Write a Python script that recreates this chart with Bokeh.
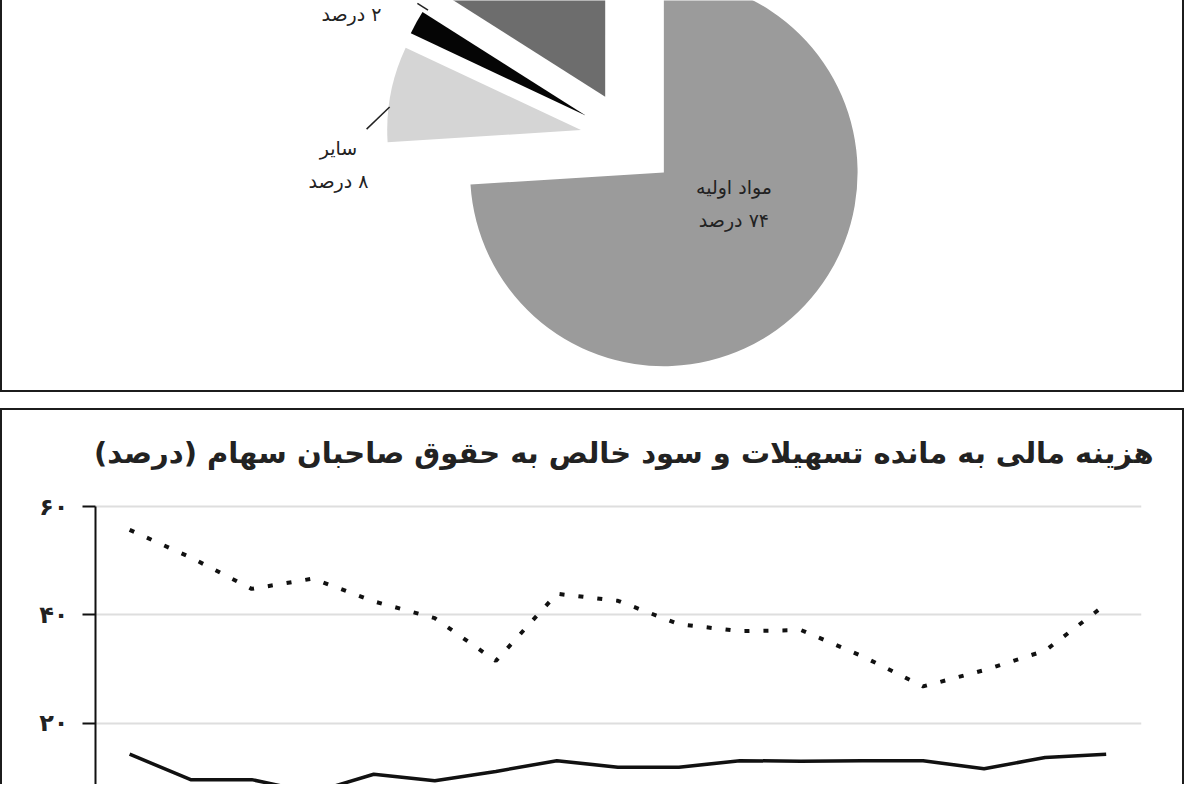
import numpy as np
from bokeh.plotting import figure
from bokeh.layouts import column
from bokeh.models import Range1d, FixedTicker, ColumnDataSource
from bokeh.core.properties import value
from bokeh.embed import file_html
from bokeh.resources import INLINE

# ---------------- data ----------------
# pie (cost structure, percent) - ordered counter-clockwise from the top
pie_names = ["", "", "سایر", "مواد اولیه"]
pie_values = [16, 2, 8, 74]
pie_colors = ["#6d6d6d", "#050505", "#d5d5d5", "#9b9b9b"]

# line chart (percent), 17 periods
periods = list(range(17))
finance_cost_ratio = [55.7, 50.6, 44.8, 46.7, 42.5, 39.4, 31.5, 43.9, 42.6, 38.3,
                      37.0, 37.2, 32.4, 26.8, 29.8, 33.4, 42.0]
net_profit_ratio = [14.3, 9.6, 9.6, 7.2, 10.6, 9.4, 11.1, 13.1, 11.9, 11.9,
                    13.1, 13.0, 13.1, 13.1, 11.6, 13.7, 14.3]
y_ticks = [20, 40, 60]

FA_DIGITS = str.maketrans("0123456789", "۰۱۲۳۴۵۶۷۸۹")
RLM = "\u200f"
def fa(n):
    return str(n).translate(FA_DIGITS)
def rtl(s):
    return RLM + s + RLM

FONT = "DejaVu Sans"
W = 1184
BORDER = "2px solid #1c1c1c"
FRAME_L, FRAME_R = 93, 45     # frame insets (px) shared by both panels

# ---------------- pie panel ----------------
H1 = 392
CW1, CH1 = W - 4, H1 - 2     # canvas size inside the borders
FW1 = CW1 - FRAME_L - FRAME_R
scale = 193.0                # px per unit radius
cx, cy = 624.0, 138.0        # pie centre in canvas px (from top-left)
explode = 0.25

p1 = figure(width=W, height=H1, output_backend="svg", toolbar_location=None,
            x_range=Range1d(-(cx - FRAME_L) / scale, (FRAME_L + FW1 - cx) / scale),
            y_range=Range1d(-(CH1 - cy) / scale, cy / scale),
            min_border_left=FRAME_L, min_border_right=FRAME_R,
            min_border_top=0, min_border_bottom=0)
p1.axis.visible = False
p1.grid.visible = False
p1.outline_line_color = None
p1.styles = {"border-left": BORDER, "border-right": BORDER, "border-bottom": BORDER,
             "box-sizing": "border-box"}

vals = np.array(pie_values, dtype=float)
frac = vals / vals.sum()
ends = np.pi / 2 + np.cumsum(frac) * 2 * np.pi
starts = ends - frac * 2 * np.pi
mids = (starts + ends) / 2
src = ColumnDataSource(dict(x=explode * np.cos(mids), y=explode * np.sin(mids),
                            start=starts, end=ends, color=pie_colors))
p1.wedge(x="x", y="y", radius=1.0, start_angle="start", end_angle="end",
         fill_color="color", line_color=None, source=src)

# labels
lab_style = dict(text_font=value(FONT), text_font_size="19px", text_color="#222222",
                 text_align="center", text_baseline="middle")
pct = [rtl(fa(v) + " درصد") for v in pie_values]
p1.text(x=[0.544, 0.544], y=[-0.244, -0.415],
        text=[rtl(pie_names[3]), pct[3]], **lab_style)
p1.text(x=[-1.497, -1.497], y=[-0.047, -0.218],
        text=[rtl(pie_names[2]), pct[2]], **lab_style)
p1.text(x=[-1.43], y=[0.645], text=[pct[1]], **lab_style)
p1.line(x=[-1.352, -1.233], y=[0.052, 0.166], line_color="#222222", line_width=1.5)
p1.line(x=[-1.09, -1.035], y=[0.70, 0.665], line_color="#222222", line_width=1.5)

# ---------------- line panel ----------------
H2 = 784 - H1 - 16
CH2 = H2 - 2
px_per_unit = 5.4
frame_top = 85          # canvas px of the plot frame top
y60 = 95                # canvas px of the 60 grid line
y_top = 60 + (y60 - frame_top) / px_per_unit
y_bot = 60 - (CH2 - y60) / px_per_unit
step = 60.8             # px between periods in the reference

p2 = figure(width=W, height=H2, output_backend="svg", toolbar_location=None,
            x_range=Range1d((95 - 129) / step, (1137 - 129) / step),
            y_range=Range1d(y_bot, y_top),
            min_border_left=FRAME_L, min_border_right=FRAME_R, min_border_top=frame_top,
            min_border_bottom=0)
p2.styles = {"border-left": BORDER, "border-right": BORDER, "border-top": BORDER,
             "box-sizing": "border-box"}
p2.outline_line_color = None
p2.xaxis.visible = False
p2.xgrid.grid_line_color = None
p2.ygrid.grid_line_color = "#dedede"
p2.ygrid.grid_line_width = 2

yax = p2.yaxis[0]
yax.ticker = FixedTicker(ticks=y_ticks)
yax.major_label_overrides = {t: fa(t) for t in y_ticks}
yax.bounds = (0, 60)
yax.axis_line_color = "#111111"
yax.axis_line_width = 2
yax.major_tick_line_color = "#111111"
yax.major_tick_line_width = 2
yax.major_tick_out = 13
yax.major_tick_in = 0
yax.minor_tick_line_color = None
yax.major_label_standoff = 14
yax.major_label_text_font = FONT
yax.major_label_text_font_size = "24px"
yax.major_label_text_font_style = "bold"
yax.major_label_text_color = "#222222"

p2.title.text = rtl("هزینه مالی به مانده تسهیلات و سود خالص به حقوق صاحبان سهام (درصد)")
p2.title.align = "right"
p2.title.vertical_align = "top"
p2.title.offset = -12
p2.title.standoff = 50
p2.title.text_font = FONT
p2.title.text_font_size = "29px"
p2.title.text_font_style = "bold"
p2.title.text_color = "#222222"

p2.line(periods, finance_cost_ratio, line_color="#111111", line_width=4,
        line_dash="5 14")
p2.line(periods, net_profit_ratio, line_color="#111111", line_width=3.5,
        line_join="round")

layout = column(p1, p2, spacing=16)
open("out.html", "w").write(file_html(layout, INLINE))
